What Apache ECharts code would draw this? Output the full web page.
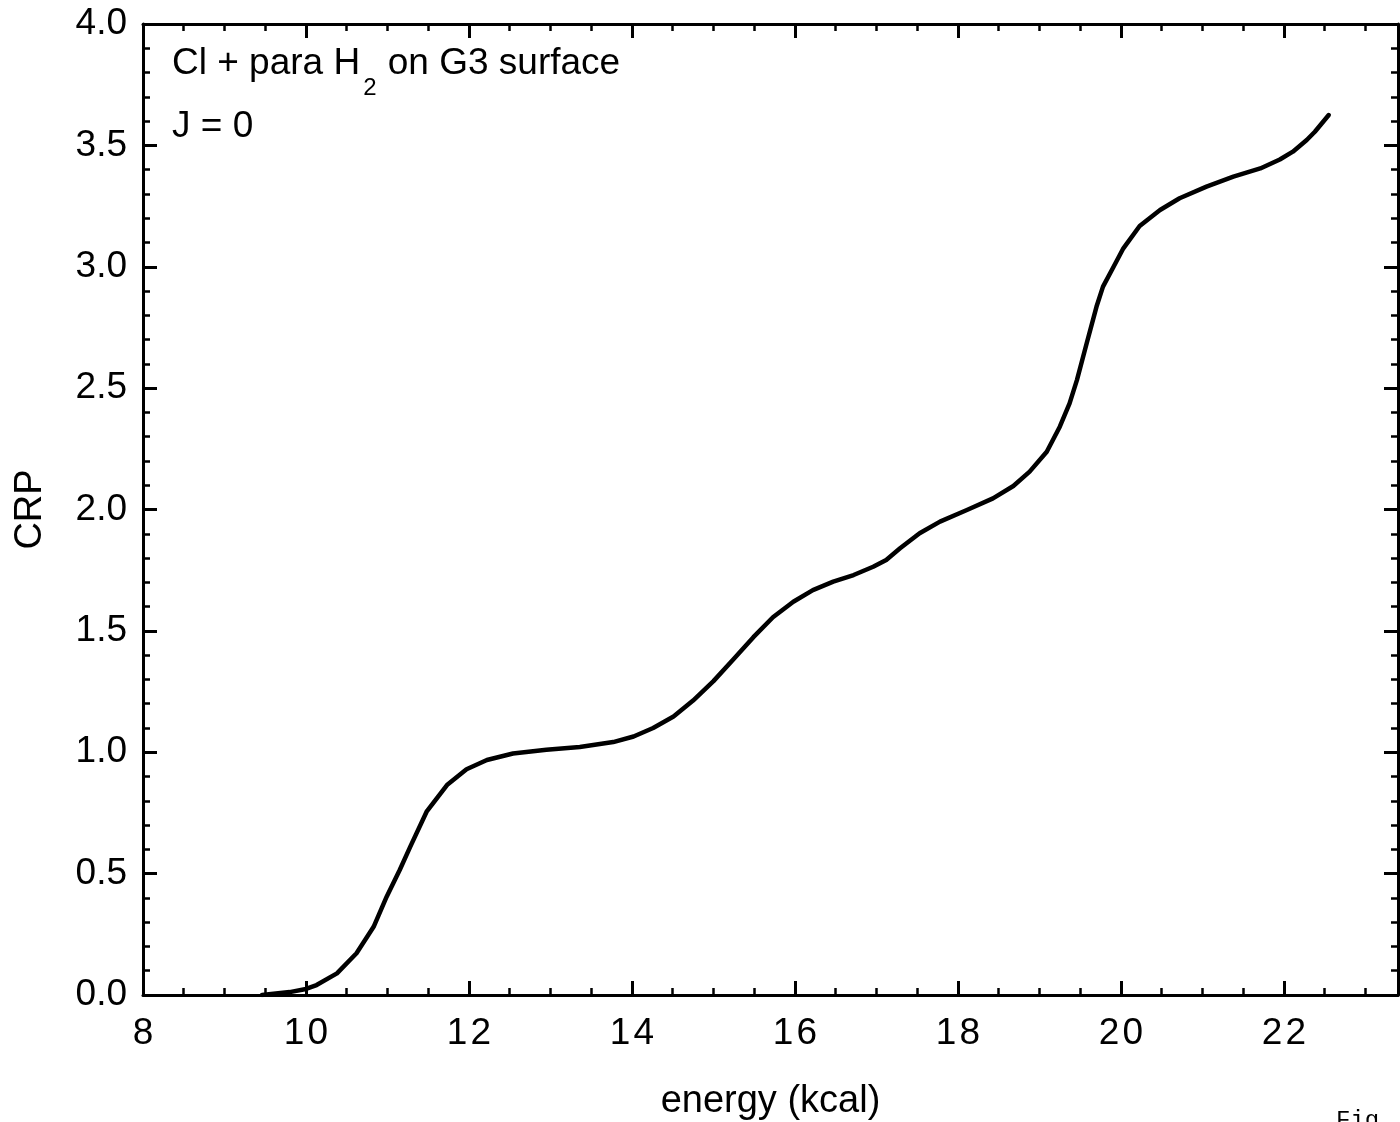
<!DOCTYPE html>
<html>
<head>
<meta charset="utf-8">
<script src="https://cdn.jsdelivr.net/npm/echarts@6/dist/echarts.min.js"></script>
<style>
html,body{margin:0;padding:0;background:#fff;}
#chart{width:1400px;height:1122px;}
</style>
</head>
<body>
<div id="chart"></div>
<script>
// ---- data ----
const energy = [9.46, 9.8, 10.0, 10.13, 10.38, 10.62, 10.83, 10.99, 11.15, 11.28, 11.48, 11.73, 11.97, 12.22, 12.54, 12.95, 13.36, 13.77, 14.02, 14.26, 14.51, 14.75, 15.0, 15.24, 15.49, 15.73, 15.98, 16.22, 16.47, 16.72, 16.96, 17.12, 17.29, 17.53, 17.78, 18.11, 18.43, 18.68, 18.88, 19.09, 19.25, 19.37, 19.46, 19.58, 19.70, 19.78, 19.91, 20.03, 20.23, 20.48, 20.72, 21.05, 21.38, 21.71, 21.95, 22.11, 22.28, 22.38, 22.55];
const crp = [0, 0.012, 0.025, 0.041, 0.089, 0.172, 0.281, 0.405, 0.515, 0.611, 0.755, 0.865, 0.930, 0.968, 0.995, 1.010, 1.022, 1.042, 1.065, 1.100, 1.147, 1.213, 1.293, 1.381, 1.474, 1.556, 1.620, 1.668, 1.703, 1.730, 1.764, 1.792, 1.840, 1.902, 1.950, 1.998, 2.046, 2.097, 2.156, 2.238, 2.341, 2.437, 2.533, 2.685, 2.835, 2.918, 3.0, 3.076, 3.168, 3.234, 3.282, 3.330, 3.371, 3.405, 3.442, 3.474, 3.522, 3.556, 3.625];
const xTickLabels = ['8', '10', '12', '14', '16', '18', '20', '22'];
const yTickLabels = ['0.0', '0.5', '1.0', '1.5', '2.0', '2.5', '3.0', '3.5', '4.0'];
const xRange = [8, 23.4];
const yRange = [0, 4];
const titleMain = 'Cl + para H';
const titleSub = '2';
const titleRest = ' on G3 surface';
const subtitle = 'J = 0';
const xName = 'energy (kcal)';
const yName = 'CRP';

const FONT = '"Liberation Sans", Arial, Helvetica, sans-serif';
const BLACK = '#000';

const pts = energy.map((e, i) => [e, crp[i]]);

function textWidth(txt, size) {
  const c = document.createElement('canvas').getContext('2d');
  c.font = size + 'px "Liberation Sans"';
  return c.measureText(txt).width;
}
const TF = 37, SF = 24;
const tx0 = 172;
const tx1 = tx0 + textWidth(titleMain, TF) + 3;
const tx2 = tx1 + textWidth(titleSub, SF) + 1;

function xAxisDef(pos, major) {
  return {
    type: 'value', position: pos, min: xRange[0], max: xRange[1],
    interval: major ? 2 : 0.5,
    axisLine: { show: major, onZero: false, lineStyle: { color: BLACK, width: 3 } },
    axisTick: { show: true, inside: true, length: major ? 14 : 7, lineStyle: { color: BLACK, width: major ? 3 : 2.5 } },
    axisLabel: {
      show: major && pos === 'bottom', color: BLACK, fontFamily: FONT, fontSize: 37, margin: 20,
      formatter: v => { const s = String(v); return xTickLabels.indexOf(s) >= 0 ? s.split('').join('\u200A') : ''; }
    },
    splitLine: { show: false },
    name: (major && pos === 'bottom') ? xName : '',
    nameLocation: 'middle', nameGap: 88,
    nameTextStyle: { color: BLACK, fontFamily: FONT, fontSize: 38 }
  };
}
function yAxisDef(pos) {
  const main = pos === 'left';
  return {
    type: 'value', position: pos, min: yRange[0], max: yRange[1], interval: 0.5,
    axisLine: { show: true, onZero: false, lineStyle: { color: BLACK, width: 3 } },
    axisTick: { show: true, inside: true, length: 14, lineStyle: { color: BLACK, width: 3 } },
    minorTick: { show: true, splitNumber: 5, length: 7, lineStyle: { color: BLACK, width: 2.5 } },
    axisLabel: {
      show: main, color: BLACK, fontFamily: FONT, fontSize: 37, margin: 16,
      formatter: v => { const s = v.toFixed(1); return yTickLabels.indexOf(s) >= 0 ? s : ''; }
    },
    splitLine: { show: false },
    name: main ? yName : '',
    nameLocation: 'middle', nameGap: 93,
    nameTextStyle: { color: BLACK, fontFamily: FONT, fontSize: 38 }
  };
}

const chart = echarts.init(document.getElementById('chart'), null, { renderer: 'canvas' });
chart.setOption({
  animation: false,
  backgroundColor: '#fff',
  grid: { left: 143, right: 2, top: 24, bottom: 127, containLabel: false, outerBoundsMode: 'none' },
  xAxis: [xAxisDef('bottom', true), xAxisDef('bottom', false), xAxisDef('top', true), xAxisDef('top', false)],
  yAxis: [yAxisDef('left'), yAxisDef('right')],
  series: [{
    type: 'line', xAxisIndex: 0, yAxisIndex: 0, data: pts,
    showSymbol: false, symbol: 'none', smooth: false,
    lineStyle: { color: BLACK, width: 4.5, join: 'round', cap: 'round' }
  }],
  graphic: [
    { type: 'text', left: tx0, top: 45, style: { text: titleMain, font: TF + 'px ' + FONT, fill: BLACK } },
    { type: 'text', left: tx1, top: 76, style: { text: titleSub, font: SF + 'px ' + FONT, fill: BLACK } },
    { type: 'text', left: tx2, top: 45, style: { text: titleRest, font: TF + 'px ' + FONT, fill: BLACK } },
    { type: 'text', left: 172, top: 108, style: { text: subtitle, font: TF + 'px ' + FONT, fill: BLACK } },
    { type: 'text', left: 1336, top: 1109, style: { text: 'Fig', font: '24px "Liberation Mono", monospace', fill: BLACK } }
  ]
});
</script>
</body>
</html>
